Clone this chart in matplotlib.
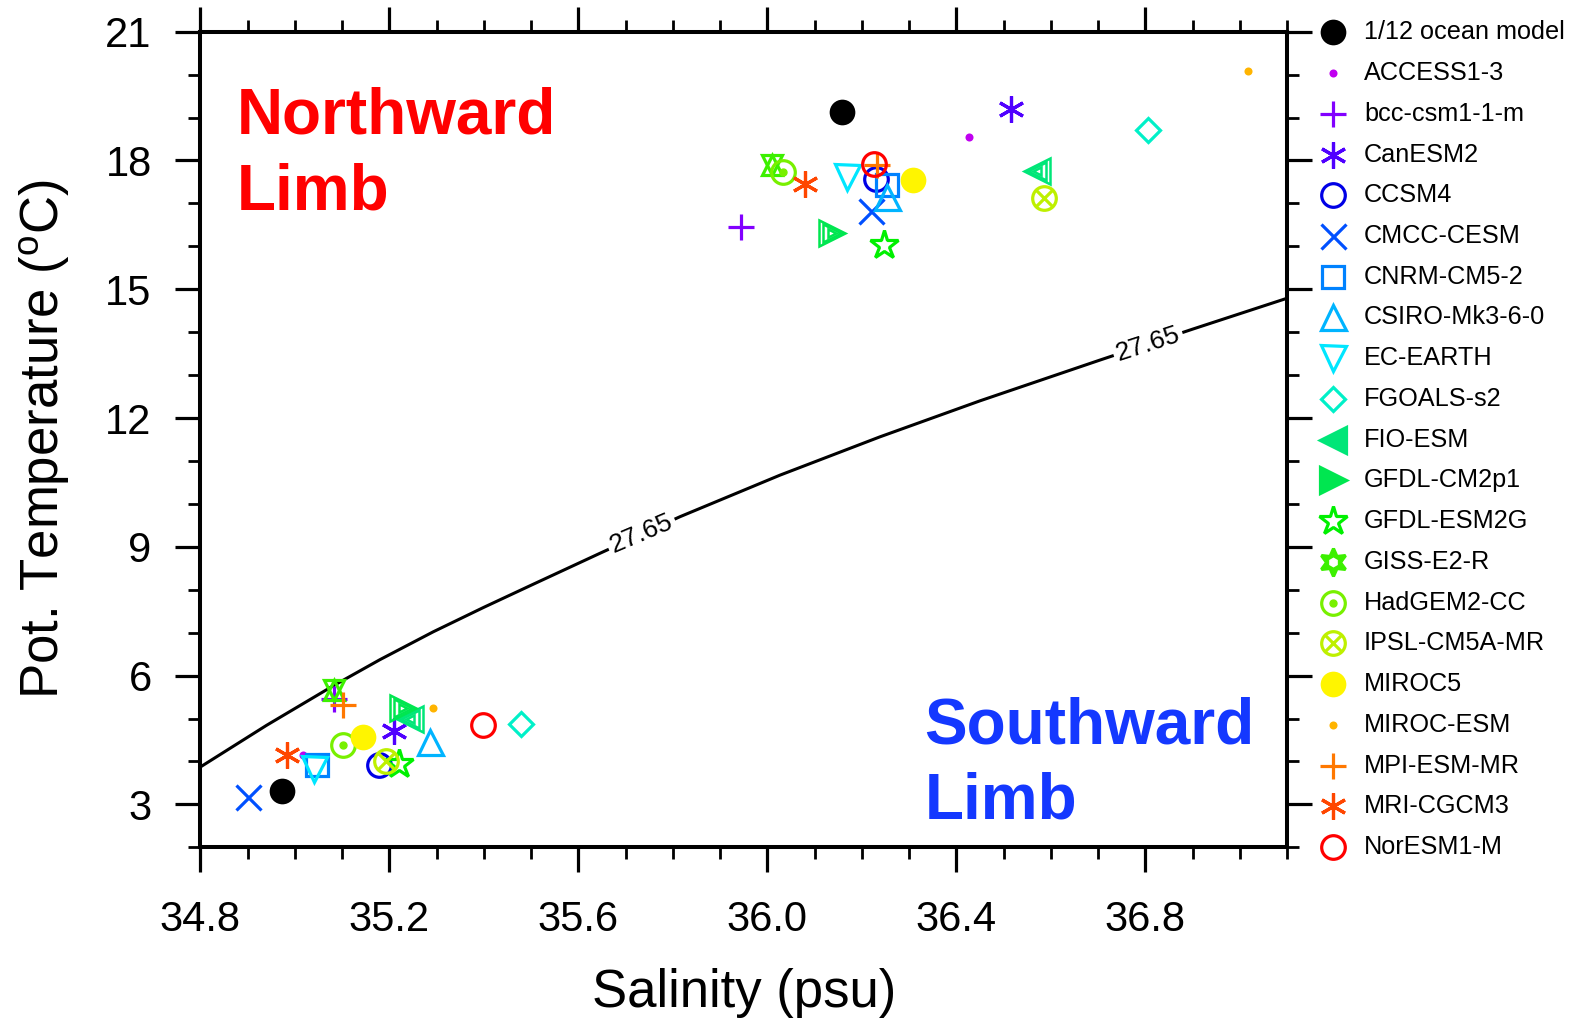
import matplotlib
matplotlib.use("Agg")
import matplotlib.pyplot as plt
from matplotlib.ticker import MultipleLocator

plt.rcParams['font.family'] = ['Liberation Sans', 'DejaVu Sans']
plt.rcParams['mathtext.fontset'] = 'custom'
plt.rcParams['mathtext.rm'] = 'Liberation Sans'

# ---- data ----
models = ["1/12 ocean model", "ACCESS1-3", "bcc-csm1-1-m", "CanESM2", "CCSM4",
          "CMCC-CESM", "CNRM-CM5-2", "CSIRO-Mk3-6-0", "EC-EARTH", "FGOALS-s2",
          "FIO-ESM", "GFDL-CM2p1", "GFDL-ESM2G", "GISS-E2-R", "HadGEM2-CC",
          "IPSL-CM5A-MR", "MIROC5", "MIROC-ESM", "MPI-ESM-MR", "MRI-CGCM3",
          "NorESM1-M"]

north_sal = [36.158, 36.428, 35.945, 36.516, 36.230, 36.219, 36.253, 36.253, 36.169, 36.805,
             36.570, 36.136, 36.246, 36.009, 36.033, 36.586, 36.309, 37.018, 36.232, 36.080,
             36.226]
north_temp = [19.12, 18.55, 16.44, 19.21, 17.57, 16.82, 17.43, 17.15, 17.62, 18.71,
              17.75, 16.30, 16.03, 17.89, 17.74, 17.13, 17.54, 20.08, 17.90, 17.45,
              17.91]

south_sal = [34.972, 35.018, 35.082, 35.211, 35.179, 34.900, 35.048, 35.286, 35.041, 35.479,
             35.244, 35.228, 35.221, 35.084, 35.101, 35.192, 35.144, 35.293, 35.101, 34.983,
             35.398]
south_temp = [3.30, 4.16, 5.46, 4.70, 3.92, 3.18, 3.92, 4.45, 3.83, 4.88,
              4.98, 5.24, 3.95, 5.67, 4.39, 4.00, 4.58, 5.24, 5.31, 4.14,
              4.86]

# sigma = 27.65 isopycnal
iso_sal = [34.80, 34.94, 35.081, 35.18, 35.293, 35.40, 35.505, 35.646, 35.815, 36.027,
           36.238, 36.45, 36.704, 36.90, 37.10]
iso_temp = [3.87, 4.84, 5.76, 6.37, 7.02, 7.59, 8.13, 8.85, 9.70, 10.67,
            11.56, 12.40, 13.35, 14.07, 14.79]
iso_label = "27.65"

colors = ["#000000", "#c000f0", "#8200ff", "#5000ff", "#0000e6", "#0050ff", "#0082ff",
          "#00b4ff", "#00e6ff", "#00f0c8", "#00e678", "#00e650", "#00f000", "#3cf000",
          "#78f000", "#bef000", "#fff500", "#ffb400", "#ff7800", "#ff4600", "#ff0000"]
styles = ["bigdot", "dot", "plus", "ast", "circle", "x", "square", "up", "down", "diamond",
          "nest_left", "nest_right", "star", "david", "circdot", "circx", "bigdot", "dot",
          "plus", "ast", "circle"]

LW = 2.3


def draw(a, x, y, style, c, legend=False):
    kw = dict(linestyle="none", color=c, markeredgewidth=LW, zorder=5)
    if style == "bigdot":
        a.plot(x, y, "o", ms=18.5, mec=c, mfc=c, markeredgewidth=0, zorder=5, linestyle="none")
    elif style == "dot":
        a.plot(x, y, "o", ms=5.8, mec=c, mfc=c, markeredgewidth=0, zorder=5, linestyle="none")
    elif style == "plus":
        a.plot(x, y, "+", ms=19, **kw)
    elif style == "ast":
        a.plot(x, y, marker=(6, 2, 0), ms=19, **kw)
    elif style == "circle":
        a.plot(x, y, "o", ms=17, mfc="none", **kw)
    elif style == "x":
        a.plot(x, y, "x", ms=18, **kw)
    elif style == "square":
        a.plot(x, y, "s", ms=16.5, mfc="none", **kw)
    elif style == "up":
        a.plot(x, y, "^", ms=18, mfc="none", **kw)
    elif style == "down":
        a.plot(x, y, "v", ms=18, mfc="none", **kw)
    elif style == "diamond":
        a.plot(x, y, "D", ms=12.5, mfc="none", **kw)
    elif style in ("nest_left", "nest_right"):
        m = "<" if style == "nest_left" else ">"
        if legend:
            a.plot(x, y, m, ms=19, mfc=c, **kw)
        else:
            for s in (19, 12.5, 6):
                a.plot(x, y, m, ms=s, mfc="none", markeredgewidth=1.8, color=c,
                       linestyle="none", zorder=5)
    elif style == "star":
        a.plot(x, y, "*", ms=21, mfc="none", **kw)
    elif style == "david":
        if legend:
            a.plot(x, y, marker=(6, 1, 0), ms=20, mfc=c, **kw)
            a.plot(x, y, "h", ms=6, mfc="white", mec="white", linestyle="none", zorder=6)
        else:
            a.plot(x, y, "^", ms=15, mfc="none", **kw)
            a.plot(x, y, "v", ms=15, mfc="none", **kw)
    elif style == "circdot":
        a.plot(x, y, "o", ms=17, mfc="none", **kw)
        a.plot(x, y, "o", ms=5, mfc=c, mec=c, linestyle="none", zorder=5)
    elif style == "circx":
        a.plot(x, y, "o", ms=17, mfc="none", **kw)
        a.plot(x, y, "x", ms=11, **kw)


W, H = 1579, 1018
fig = plt.figure(figsize=(W / 100, H / 100), dpi=100)
ax = fig.add_axes([200.3 / W, 1 - 847.3 / H, (1287 - 200.3) / W, (847.3 - 31.7) / H])

# isopycnal
ax.plot(iso_sal, iso_temp, color="black", lw=2.2, zorder=2, solid_joinstyle="round")
for s, t, rot in [(35.734, 9.30, 23), (36.806, 13.72, 18)]:
    ax.text(s, t, iso_label, fontsize=19, rotation=rot, ha="center", va="center",
            rotation_mode="anchor", zorder=3,
            bbox=dict(boxstyle="square,pad=0.12", fc="white", ec="none"))

for i in range(len(models)):
    draw(ax, north_sal[i], north_temp[i], styles[i], colors[i])
    draw(ax, south_sal[i], south_temp[i], styles[i], colors[i])

ax.set_xlim(34.8, 37.1)
ax.set_ylim(2, 21)
ax.xaxis.set_major_locator(MultipleLocator(0.4))
ax.xaxis.set_minor_locator(MultipleLocator(0.1))
ax.yaxis.set_major_locator(MultipleLocator(3))
ax.yaxis.set_minor_locator(MultipleLocator(1))
ax.xaxis.set_major_formatter(matplotlib.ticker.FormatStrFormatter("%.1f"))
ax.tick_params(which="both", direction="out", top=True, right=True,
               labeltop=False, labelright=False)
ax.tick_params(which="major", length=18, width=2.3, labelsize=30, pad=17)
ax.tick_params(axis="x", which="major", pad=20)
ax.tick_params(which="minor", length=8.6, width=2.0)
for sp in ax.spines.values():
    sp.set_linewidth(2.9)

ax.set_xlabel("Salinity (psu)", fontsize=38, labelpad=20)
ax.set_ylabel(r"Pot. Temperature ($\mathregular{^o}$C)", fontsize=38, labelpad=24)

ax.text(34.878, 18.62, "Northward", color="#ff0000", fontsize=46, fontweight="bold", va="baseline")
ax.text(34.878, 16.86, "Limb", color="#ff0000", fontsize=46, fontweight="bold", va="baseline")
ax.text(36.333, 4.42, "Southward", color="#1438ff", fontsize=46, fontweight="bold", va="baseline")
ax.text(36.333, 2.67, "Limb", color="#1438ff", fontsize=46, fontweight="bold", va="baseline")

# legend on the right, in figure pixels
lax = fig.add_axes([0, 0, 1, 1], facecolor="none")
lax.set_xlim(0, W)
lax.set_ylim(H, 0)
lax.axis("off")
for i, name in enumerate(models):
    yy = 32.3 + i * 40.74
    draw(lax, 1333, yy, styles[i], colors[i], legend=True)
    lax.text(1364, yy, name, fontsize=18.2, va="center", ha="left")

fig.savefig("out.png", dpi=100)
